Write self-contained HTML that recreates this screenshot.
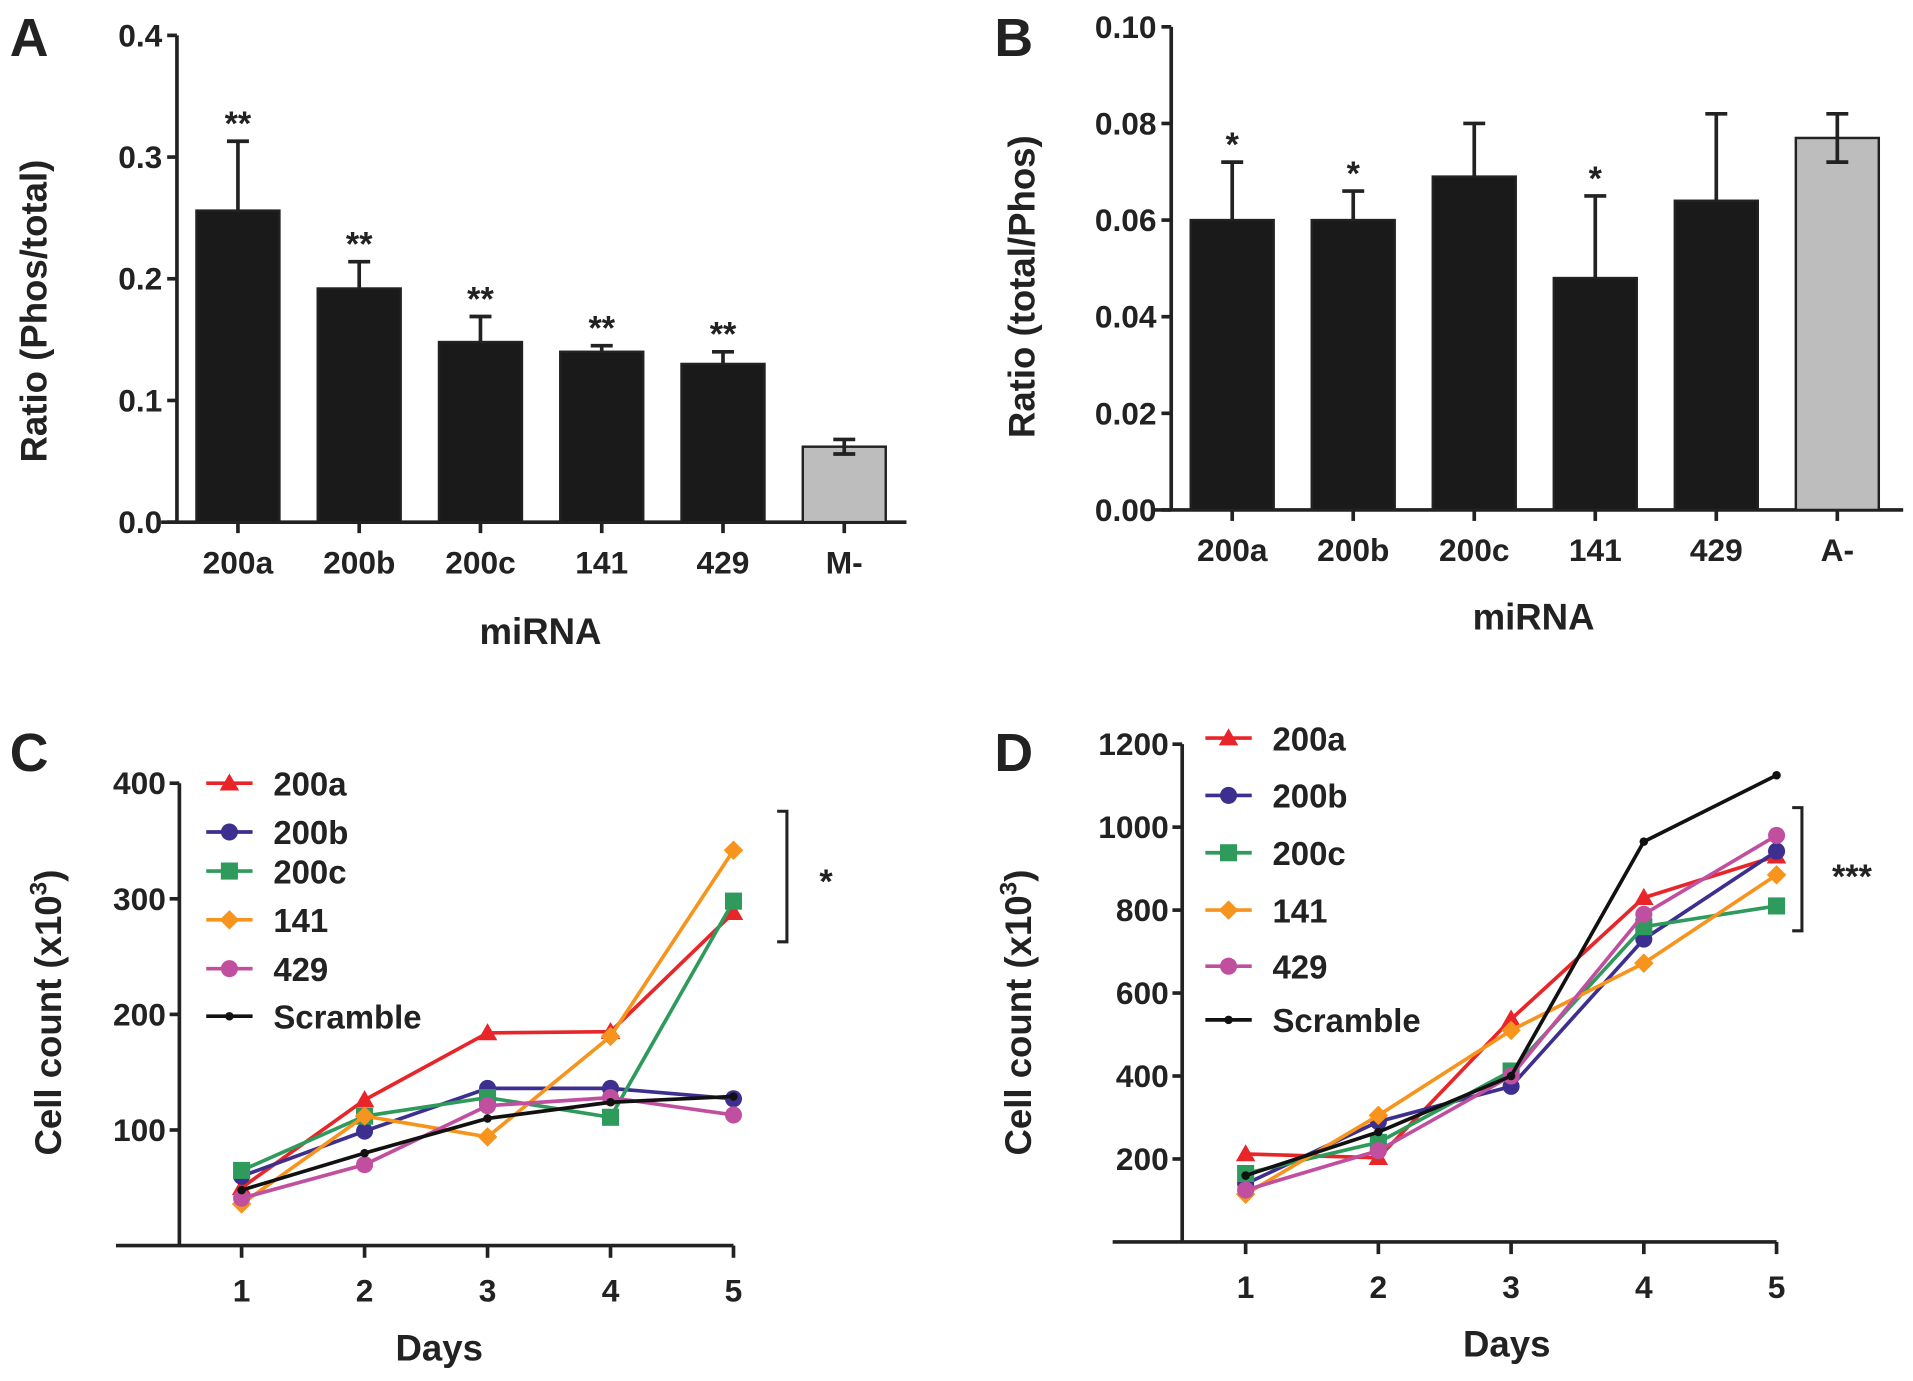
<!DOCTYPE html>
<html><head><meta charset="utf-8"><style>
html,body{margin:0;padding:0;background:#fff}
svg{display:block}
text{font-family:"Liberation Sans",sans-serif;font-weight:bold;fill:#222}
</style></head><body>
<svg id="fig" width="1913" height="1381" viewBox="0 0 1568 1132" xmlns="http://www.w3.org/2000/svg"></svg>
<script>
// Panel A data
const catsA = ["200a","200b","200c","141","429","M-"];
const valsA = [0.256,0.192,0.148,0.140,0.130,0.062];
const errA = [0.057,0.022,0.021,0.005,0.010,0.006];
const sigA = ["**","**","**","**","**",""];
const ticksA = [0.0,0.1,0.2,0.3,0.4];
const tickLabelsA = ["0.0","0.1","0.2","0.3","0.4"];
// Panel B data
const catsB = ["200a","200b","200c","141","429","A-"];
const valsB = [0.060,0.060,0.069,0.048,0.064,0.077];
const errB = [0.012,0.006,0.011,0.017,0.018,0.005];
const sigB = ["*","*","","*","",""];
const ticksB = [0,0.02,0.04,0.06,0.08,0.10];
const tickLabelsB = ["0.00","0.02","0.04","0.06","0.08","0.10"];
// Panel C/D data
const days = [1,2,3,4,5];
const seriesNames = ["200a","200b","200c","141","429","Scramble"];
const c200a = [50,126,184,185,288];
const c200b = [60,99,136,136,127];
const c200c = [65,112,128,111,298];
const c141 = [36,112,94,181,342];
const c429 = [41,70,121,128,113];
const cScr = [48,80,110,124,129];
const d200a = [212,203,537,830,930];
const d200b = [140,290,375,730,942];
const d200c = [165,240,412,760,810];
const d141 = [115,305,510,672,885];
const d429 = [125,220,400,790,980];
const dScr = [160,265,400,965,1125];
const ticksC = [100,200,300,400];
const ticksD = [200,400,600,800,1000,1200];

const NS="http://www.w3.org/2000/svg";
const svg=document.getElementById('fig');
function mk(tag,attrs,parent){const e=document.createElementNS(NS,tag);for(const k in attrs)e.setAttribute(k,attrs[k]);(parent||svg).appendChild(e);return e;}
function txt(s,x,y,size,anchor,parent,extra){const t=mk('text',Object.assign({x:x,y:y,'font-size':size,'text-anchor':anchor||'middle'},extra||{}),parent);t.textContent=s;return t;}
function grp(name){const g=mk('g',{});return g;}

function barPanel(cfg){
  const g=grp(cfg.name);
  const y=v=>cfg.y0-(v-cfg.min)/(cfg.max-cfg.min)*(cfg.y0-cfg.y1);
  const l=txt(cfg.letter,cfg.lx,cfg.ly,44,'start',g);
  
  const ax=mk('path',{d:`M${cfg.ax} ${cfg.y1} V${cfg.y0} M${cfg.xa0} ${cfg.y0} H${cfg.xa1}`,stroke:'#222','stroke-width':3,fill:'none'},g);
  
  cfg.ticks.forEach((t,i)=>{
    mk('line',{x1:cfg.ax-8,x2:cfg.ax,y1:y(t),y2:y(t),stroke:'#222','stroke-width':3},g);
    const tl=txt(cfg.tickLabels[i],cfg.ax-12,y(t)+9,26,'end',g);
    
  });
  cfg.cats.forEach((c,i)=>{
    const cx=cfg.cx0+i*cfg.dx, w=68, v=cfg.vals[i], e=cfg.err[i];
    const last=i===cfg.cats.length-1;
    const b=mk('rect',{x:cx-w/2,y:y(v),width:w,height:cfg.y0-y(v),fill:last?'#bdbdbd':'#1a1a1a',stroke:'#222','stroke-width':2},g);
    
    const lo=last?v-e:v;
    const eb=mk('path',{d:`M${cx} ${y(lo)} V${y(v+e)} M${cx-9} ${y(v+e)} H${cx+9}`+(last?` M${cx-9} ${y(v-e)} H${cx+9}`:''),stroke:'#222','stroke-width':3,fill:'none'},g);
    
    mk('line',{x1:cx,x2:cx,y1:cfg.y0,y2:cfg.y0+9,stroke:'#222','stroke-width':3},g);
    const xl=txt(c,cx,cfg.y0+42,26,'middle',g);
    
    if(cfg.sig[i]){const s=txt(cfg.sig[i],cx,y(v+e)-5,28,'middle',g,{'font-weight':'normal'});
      }
  });
  const xt=txt('miRNA',cfg.xtx,cfg.xty,30,'middle',g);
  
  const yt=txt(cfg.ytitle,0,0,30,'middle',g,{transform:`translate(${cfg.ytx},${cfg.yty}) rotate(-90)`});
  
}

barPanel({name:'panel-a',letter:'A',lx:8,ly:46,ax:145,y0:428,y1:29,min:0,max:0.4,xa0:132,xa1:743,cx0:195,dx:99.4,
  cats:catsA,vals:valsA,err:errA,sig:sigA,ticks:ticksA,tickLabels:tickLabelsA,xtx:443,xty:528,ytitle:'Ratio (Phos/total)',ytx:38,yty:255});
barPanel({name:'panel-b',letter:'B',lx:815,ly:46,ax:960,y0:418,y1:22,min:0,max:0.10,xa0:945,xa1:1560,cx0:1010,dx:99.2,
  cats:catsB,vals:valsB,err:errB,sig:sigB,ticks:ticksB,tickLabels:tickLabelsB,xtx:1257,xty:516,ytitle:'Ratio (total/Phos)',ytx:848,yty:235});

const colors=['#e8262a','#3c2f8f','#2e9a5c','#f7941d','#c0509f','#111'];
const markers=['tri','circ','sq','dia','circ','dot'];
function marker(type,x,y,col,g){
  let m;
  if(type==='tri') m=mk('path',{d:`M${x} ${y-8} L${x+8} ${y+6} L${x-8} ${y+6}Z`,fill:col},g);
  else if(type==='sq') m=mk('rect',{x:x-7,y:y-7,width:14,height:14,fill:col},g);
  else if(type==='dia') m=mk('path',{d:`M${x} ${y-8} L${x+8} ${y} L${x} ${y+8} L${x-8} ${y}Z`,fill:col},g);
  else m=mk('circle',{cx:x,cy:y,r:type==='dot'?3.5:7,fill:col},g);
  
}
function linePanel(cfg){
  const g=grp(cfg.name);
  const y=v=>cfg.y0-v/cfg.max*(cfg.y0-cfg.ytop);
  const x=d=>cfg.x1+(d-1)*cfg.dx;
  const l=txt(cfg.letter,cfg.lx,cfg.ly,44,'start',g);
  
  const ax=mk('path',{d:`M${cfg.ax} ${y(cfg.ticks[cfg.ticks.length-1])} V${cfg.y0} M${cfg.xa0} ${cfg.y0} H${x(5)}`,stroke:'#222','stroke-width':3,fill:'none'},g);
  
  cfg.ticks.forEach(t=>{
    mk('line',{x1:cfg.ax-8,x2:cfg.ax,y1:y(t),y2:y(t),stroke:'#222','stroke-width':3},g);
    const tl=txt(String(t),cfg.ax-11,y(t)+9,26,'end',g);
    
  });
  days.forEach(d=>{
    mk('line',{x1:x(d),x2:x(d),y1:cfg.y0,y2:cfg.y0+10,stroke:'#222','stroke-width':3},g);
    const xl=txt(String(d),x(d),cfg.y0+46,26,'middle',g);
    
  });
  cfg.series.forEach((s,si)=>{
    const sg=mk('g',{},g);
    
    
    const p=mk('polyline',{points:s.map((v,i)=>x(days[i])+','+y(v)).join(' '),fill:'none',stroke:colors[si],'stroke-width':3},sg);
    
    s.forEach((v,i)=>marker(markers[si],x(days[i]),y(v),colors[si],sg));
    const le=mk('g',{},g);
    
    const ly=cfg.legY[si];
    mk('line',{x1:cfg.legX,x2:cfg.legX+38,y1:ly,y2:ly,stroke:colors[si],'stroke-width':3},le);
    marker(markers[si],cfg.legX+19,ly,colors[si],le);
    txt(seriesNames[si],cfg.legX+55,ly+10,27,'start',le);
  });
  const br=mk('path',{d:`M${cfg.bx-8} ${cfg.by0} H${cfg.bx} V${cfg.by1} H${cfg.bx-8}`,stroke:'#222','stroke-width':2.5,fill:'none'},g);
  
  const st=txt(cfg.star,cfg.sx,cfg.sy,28,'middle',g,{'font-weight':'normal'});
  
  const xt=txt('Days',cfg.xtx,cfg.y0+94,30,'middle',g);
  
  const yt=mk('text',{'font-size':30,'text-anchor':'middle',transform:`translate(${cfg.ytx},${cfg.yty}) rotate(-90)`},g);
  yt.innerHTML='Cell count (x10<tspan dy="-12" font-size="20">3</tspan><tspan dy="12">)</tspan>';
  
}
linePanel({name:'panel-c',letter:'C',lx:8,ly:632,ax:147,y0:1021,ytop:642,max:400,xa0:95,x1:198,dx:100.8,ticks:ticksC,
  series:[c200a,c200b,c200c,c141,c429,cScr],legX:169,legY:[642,682,714,754,794,833],bx:645,by0:665,by1:772,star:'*',sx:677,sy:732,xtx:360,ytx:50,yty:830});
linePanel({name:'panel-d',letter:'D',lx:815,ly:632,ax:969,y0:1018,ytop:610,max:1200,xa0:912,x1:1021,dx:108.8,ticks:ticksD,
  series:[d200a,d200b,d200c,d141,d429,dScr],legX:988,legY:[605,652,699,746,792,836],bx:1477,by0:662,by1:763,star:'***',sx:1518,sy:728,xtx:1235,ytx:845,yty:830});
</script>
</body></html>
